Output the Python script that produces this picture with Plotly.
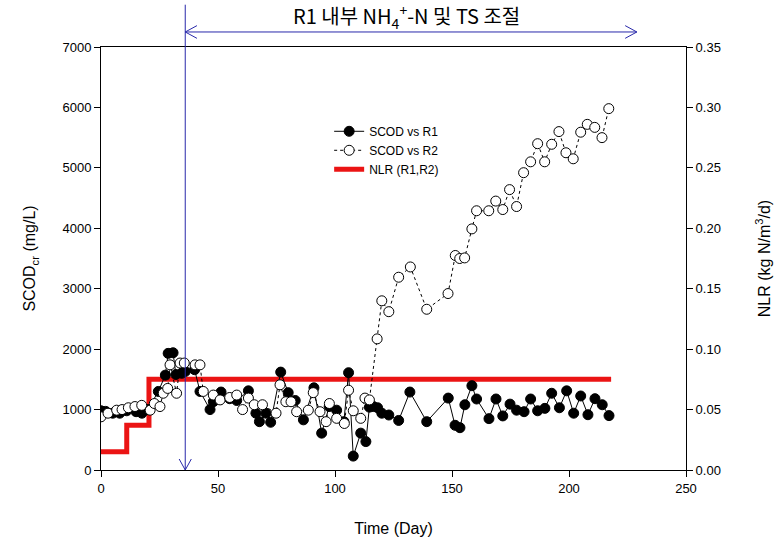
import plotly.graph_objects as go

# ---------------- data ----------------
r1_day = [0, 2, 5, 8, 11, 15, 17.5, 20, 24.5, 27.5, 28.7, 30.8, 32, 34.5, 36, 40, 42.3, 46.6, 48, 51.3,
          55, 58, 63, 66.2, 67.7, 70.5, 72.5, 76.8, 80, 83, 86.5, 91, 94.3, 97.5, 100.7, 103.8, 105.8,
          107.8, 111, 113.2, 114.7, 116.4, 118.2, 120, 123, 127.2, 132, 139.2, 148.4, 151.3, 153.4,
          155.5, 158.5, 160.5, 165.8, 168.8, 171.7, 174.8, 177.6, 180.8, 183.6, 186.6, 189.7, 192.6,
          195.9, 199, 202, 205, 208.1, 211.1, 214.2, 217.1]
r1_scod = [980, 970, 940, 940, 980, 965, 940, 1000, 1300, 1570, 1930, 1940, 1580, 1600, 1630, 1660, 1300,
           1000, 1130, 1290, 1180, 1150, 1310, 940, 800, 940, 790, 1620, 1280, 1150, 830, 1360, 610, 1050,
           990, 800, 1610, 230, 610, 470, 1040, 1050, 1030, 940, 910, 820, 1290, 800, 1190, 740, 700,
           1080, 1395, 1175, 850, 1175, 895, 1090, 990, 965, 1175, 980, 1020, 1270, 1030, 1310, 940,
           1225, 915, 1180, 1080, 900]

r2_day = [0, 3, 6.7, 9, 11.7, 14.5, 17.4, 21, 22.8, 25.2, 26.6, 28.5, 29.5, 32.3, 33.8, 35.6, 40.2, 42.3,
          43.7, 48, 50.9, 55, 58, 60.5, 63, 65.5, 69, 74.8, 76.5, 79, 81.2, 83.6, 88.6, 90.7, 93.6,
          96.2, 97.6, 100.7, 104, 105.8, 107.8, 111, 112.8, 114.7, 118, 120, 123, 127.2, 132.2, 139.2,
          148.3, 151.4, 153.3, 155.4, 158.5, 160.5, 165.7, 168.7, 171.7, 174.6, 177.6, 180.6, 183.6,
          186.6, 189.6, 192.6, 195.7, 198.7, 201.8, 205, 207.8, 211, 214.1, 217]
r2_scod = [880, 940, 990, 1000, 1030, 1050, 1070, 990, 1100, 1050, 1270, 1350, 1740, 1270, 1770, 1770,
           1740, 1740, 1300, 1240, 1160, 1200, 1240, 1000, 1190, 1080, 1080, 940, 1410, 1130, 1130, 965,
           990, 1280, 965, 800, 1100, 855, 770, 1320, 980, 855, 1190, 1160, 2170, 2800, 2620, 3190,
           3360, 2660, 2920, 3550, 3500, 3510, 3990, 4290, 4290, 4450, 4310, 4640, 4360, 4920, 5100,
           5400, 5100, 5390, 5600, 5250, 5150, 5590, 5720, 5670, 5500, 5980]

nlr_day = [0, 11, 20.5, 218]
nlr_val = [0.015, 0.037, 0.075, 0.075]

start_day = 36
end_day = 229
x_ticks = [0, 50, 100, 150, 200, 250]
y_ticks = [0, 1000, 2000, 3000, 4000, 5000, 6000, 7000]
y2_ticks = [0.00, 0.05, 0.10, 0.15, 0.20, 0.25, 0.30, 0.35]

FONT = "Liberation Sans, Arial, Noto Sans CJK KR"
KFONT = "Noto Sans CJK KR, Liberation Sans"

fig = go.Figure()

# NLR on primary (right) axis so SCOD markers are drawn on top
fig.add_trace(go.Scatter(
    x=nlr_day, y=nlr_val, mode="lines", line=dict(color="rgb(235,20,20)", width=5, shape="hv"),
    name="NLR (R1,R2)", legendrank=3, yaxis="y"))
fig.add_trace(go.Scatter(
    x=r1_day, y=r1_scod, mode="lines+markers", line=dict(color="black", width=1),
    marker=dict(symbol="circle", size=10, color="black", line=dict(color="black", width=1)),
    name="SCOD vs R1", legendrank=1, yaxis="y2"))
fig.add_trace(go.Scatter(
    x=r2_day, y=r2_scod, mode="lines+markers", line=dict(color="black", width=1, dash="dot"),
    marker=dict(symbol="circle", size=10, color="white", line=dict(color="black", width=1)),
    name="SCOD vs R2", legendrank=2, yaxis="y2"))

shapes = []
ln = dict(color="rgb(40,40,170)", width=1)
# vertical line
shapes.append(dict(type="line", xref="x", yref="paper", x0=start_day, x1=start_day, y0=0, y1=1.1, line=ln))
# down arrowhead at bottom
shapes.append(dict(type="path", xref="x", yref="paper",
                   path=f"M {start_day-2.6},0.026 L {start_day},0 L {start_day+2.6},0.026", line=ln))
# horizontal double arrow
ya = 1.0355
shapes.append(dict(type="line", xref="x", yref="paper", x0=start_day, x1=end_day, y0=ya, y1=ya, line=ln))
shapes.append(dict(type="path", xref="x", yref="paper",
                   path=f"M {start_day+5},{ya+0.015} L {start_day},{ya} L {start_day+5},{ya-0.015}", line=ln))
shapes.append(dict(type="path", xref="x", yref="paper",
                   path=f"M {end_day-5},{ya+0.015} L {end_day},{ya} L {end_day-5},{ya-0.015}", line=ln))

fig.update_layout(
    width=781, height=542,
    margin=dict(l=101, r=95, t=47, b=72),
    paper_bgcolor="white", plot_bgcolor="white",
    font=dict(family=FONT, size=13, color="black"),
    showlegend=True,
    legend=dict(x=0.39, y=0.835, xanchor="left", yanchor="top", bgcolor="rgba(0,0,0,0)",
                font=dict(size=12), tracegroupgap=0, itemwidth=30),
    shapes=shapes,
    xaxis=dict(range=[0, 250], tickvals=x_ticks, showgrid=False, zeroline=False,
               showline=True, linecolor="black", linewidth=1, mirror=True,
               ticks="outside", ticklen=6, tickcolor="black", automargin=False,
               title=dict(text="Time (Day)", font=dict(size=16), standoff=28)),
    yaxis=dict(range=[0, 0.35], tickvals=y2_ticks, tickformat=".2f", side="right",
               showgrid=False, zeroline=False, showline=True, linecolor="black", linewidth=1,
               ticks="outside", ticklen=6, tickcolor="black", automargin=False,
               title=dict(text="NLR (kg N/m<sup>3</sup>/d)", font=dict(size=16), standoff=38)),
    yaxis2=dict(range=[0, 7000], tickvals=y_ticks, side="left", overlaying="y",
                showgrid=False, zeroline=False, showline=True, linecolor="black", linewidth=1,
                ticks="outside", ticklen=6, tickcolor="black", automargin=False,
                title=dict(text="SCOD<sub>cr</sub> (mg/L)", font=dict(size=16), standoff=22)),
    annotations=[dict(xref="x", yref="paper", x=130.5, y=1.072,
                      text="R1 내부 NH<sub>4</sub><sup>+</sup>-N 및 TS 조절", showarrow=False,
                      font=dict(family=KFONT, size=20, color="black"),
                      xanchor="center", yanchor="middle")],
)

fig.write_html("out.html", config={"displayModeBar": False},
               post_script="document.body.style.margin='0';")
